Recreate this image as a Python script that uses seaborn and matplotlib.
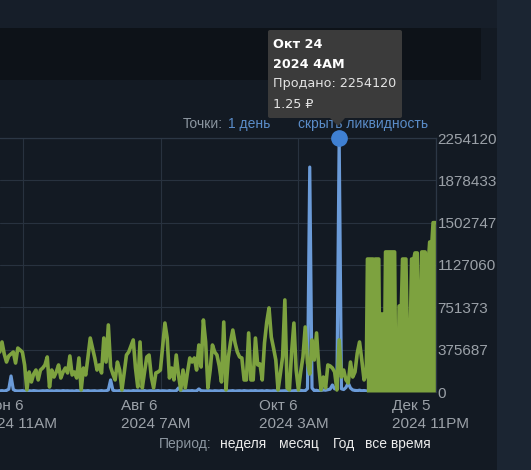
import matplotlib
matplotlib.use("Agg")
import matplotlib.pyplot as plt
import matplotlib.transforms as mtransforms
from matplotlib.patches import Rectangle, FancyBboxPatch, Polygon
import numpy as np
import pandas as pd
import seaborn as sns

# ---------------- data (values in thousands) ----------------
daily_start = "2024-05-27 04:00"
green_daily_k = [
    355, 444, 337, 266, 320, 337, 355, 257, 390, 373, 355, 240, 18, 178, 89, 160,
    195, 107, 195, 213, 240, 311, 44, 195, 133, 178, 240, 124, 178, 213, 169, 320,
    151, 178, 124, 302, 18, 213, 151, 311, 479, 390, 302, 195, 240, 169, 479, 266,
    595, 222, 160, 107, 266, 195, 18, 169, 328, 355, 408, 462, 213, 44, 444, 36,
    178, 311, 328, 133, 36, 169, 178, 195, 399, 612, 479, 124, 213, 107, 328, 151,
    18, 195, 36, 178, 302, 266, 302, 195, 417, 222, 639, 444, 36, 195, 417, 355,
    328, 231, 89, 621, 18, 302, 444, 550, 435, 355, 311, 302, 107, 107, 524, 107,
    107, 479, 240, 249, 107, 435, 621, 746, 488, 390, 284, 18, 160, 311, 817, 36,
    18, 355, 612, 195, 18, 178, 311, 577, 257, 160, 462, 284, 524, 222, 18, 133,
    36, 240, 231, 213, 178, 18, 462, 133, 195, 107, 80, 266, 133, 178, 346, 444,
    284, 107, 151,
]
blue_daily_k = [
    10, 12, 9, 14, 25, 142, 22, 11, 9, 10, 12, 8, 10, 11, 9, 12,
    10, 8, 9, 11, 10, 12, 9, 10, 8, 11, 10, 9, 12, 10, 11, 9,
    10, 8, 12, 10, 9, 11, 10, 12, 9, 10, 11, 8, 10, 12, 9, 11,
    18, 107, 16, 10, 9, 12, 10, 11, 9, 10, 8, 12, 10, 11, 9, 10,
    12, 8, 10, 11, 9, 10, 12, 9, 11, 10, 8, 12, 10, 9, 11, 36,
    12, 10, 9, 11, 10, 12, 9, 10, 27, 11, 10, 9, 12, 10, 8, 11,
    10, 9, 12, 10, 11, 9, 10, 12, 8, 10, 11, 9, 12, 10, 9, 11,
    10, 12, 9, 10, 11, 8, 12, 10, 9, 11, 10, 12, 9, 10, 11, 12,
    10, 9, 11, 12, 10, 14, 11, 12, 30, 1996, 35, 12, 15, 10, 14, 18,
    16, 20, 25, 62, 28, 30, 2254.12, 28, 22, 40, 80, 35, 18, 14, 12, 16,
    11, 13, 10,
]
dense_start = "2024-11-05 16:00"
green_dense_k = (
    [1180] * 6 + [151] + [1180] * 4 + [18] + [692] * 3 + [151] + [1243] * 9
    + [18] * 3 + [763] * 3 + [1180] * 4 + [595] * 4 + [1180] * 3 + [1234] * 3
    + [621] * 3 + [1243] * 4 + [1180] * 3 + [1331] * 3 + [1503] * 3
)
y_ticks = [0, 375687, 751373, 1127060, 1502747, 1878433, 2254120]
y_tick_labels = [str(v) for v in y_ticks]
x_tick_dates = ["2024-06-06 11:00", "2024-08-06 07:00", "2024-10-06 03:00", "2024-12-05 23:00"]
x_tick_labels = ["Июн 6\n2024 11AM", "Авг 6\n2024 7AM", "Окт 6\n2024 3AM", "Дек 5\n2024 11PM"]
x_range = ["2024-05-27 07:00", "2024-12-05 23:00"]
hover_index = 150
tooltip_lines = ["Окт 24", "2024 4AM", "Продано: 2254120", "1.25 ₽"]
period_labels = ["неделя", "месяц", "Год", "все время"]

# ---------------- frames ----------------
df_daily = pd.DataFrame({
    "date": pd.date_range(daily_start, periods=len(green_daily_k), freq="D"),
    "green": np.array(green_daily_k, float) * 1000,
    "blue": np.array(blue_daily_k, float) * 1000,
})
df_dense = pd.DataFrame({
    "date": pd.date_range(dense_start, periods=len(green_dense_k), freq="12h"),
    "green": np.array(green_dense_k, float) * 1000,
})
df_green = pd.concat([df_daily[["date", "green"]], df_dense], ignore_index=True)
df_fill = df_green[df_green["date"] >= df_daily["date"].iloc[-1]]

# ---------------- style ----------------
W, H = 531, 470
BG = "#131a23"
GRID = "#28323f"
GREEN = "#7da23f"
BLUE = "#6b9bd8"
TICK = "#9ba1a8"

sns.set_theme(style="dark", rc={"axes.facecolor": BG, "figure.facecolor": BG})
plt.rcParams["font.family"] = ["Liberation Sans", "DejaVu Sans"]

fig = plt.figure(figsize=(W / 100, H / 100), dpi=100)

def fx(x):
    return x / W

def fy(y):
    return 1 - y / H

# background panels
fig.patches.append(Rectangle((0, fy(28)), 1, 28 / H, transform=fig.transFigure,
                             facecolor="#161e29", edgecolor="none", zorder=0))
fig.patches.append(Rectangle((0, fy(80)), fx(481), 52 / H, transform=fig.transFigure,
                             facecolor="#0d1218", edgecolor="none", zorder=0))
fig.patches.append(Rectangle((fx(497), 0), 1 - fx(497), 1, transform=fig.transFigure,
                             facecolor="#1b2532", edgecolor="none", zorder=0))

ax = fig.add_axes([0, fy(392), fx(436), 254 / H])
ax.set_facecolor(BG)

sns.lineplot(data=df_daily, x="date", y="blue", color=BLUE, lw=2.3, ax=ax, zorder=2)
sns.lineplot(data=df_green, x="date", y="green", color=GREEN, lw=2.6, ax=ax, zorder=3)
ax.fill_between(df_fill["date"], 0, df_fill["green"], color=GREEN, lw=0, zorder=3)

hx = df_daily["date"].iloc[hover_index]
hy = df_daily["blue"].iloc[hover_index]
ax.plot([hx], [hy], marker="o", ms=11, color="#3f80d2", mec="#3f80d2", clip_on=False, zorder=6)

ax.set_xlim(pd.Timestamp(x_range[0]), pd.Timestamp(x_range[1]))
ax.set_ylim(0, y_ticks[-1])
ax.set_xlabel("")
ax.set_ylabel("")
ax.set_xticks(pd.to_datetime(x_tick_dates))
ax.set_xticklabels(x_tick_labels)
ax.yaxis.tick_right()
ax.set_yticks(y_ticks)
ax.set_yticklabels(y_tick_labels)
ax.tick_params(axis="both", length=0, colors=TICK, labelsize=11)
ax.tick_params(axis="x", pad=5)
ax.tick_params(axis="y", pad=1)
ax.grid(True, color=GRID, lw=0.8, zorder=0)
for s in ["left", "bottom"]:
    ax.spines[s].set_visible(False)
for s in ["top", "right"]:
    ax.spines[s].set_visible(True)
    ax.spines[s].set_color("#2c3745")
    ax.spines[s].set_linewidth(0.9)

offset = mtransforms.ScaledTranslation(-5 / 100, 0, fig.dpi_scale_trans)
for lab in ax.get_xticklabels():
    lab.set_multialignment("left")
    lab.set_linespacing(1.35)
    lab.set_transform(lab.get_transform() + offset)

# header links
fig.text(fx(183), fy(124), "Точки:", color="#8c96a0", fontsize=10, va="center")
fig.text(fx(228), fy(124), "1 день", color="#5a8cc8", fontsize=10, va="center")
fig.text(fx(298), fy(124), "скрыть ликвидность", color="#5a8cc8", fontsize=10, va="center")

# tooltip
fig.patches.append(FancyBboxPatch((fx(268), fy(118)), fx(402) - fx(268), (118 - 30) / H,
                                  boxstyle="round,pad=0,rounding_size=0.004",
                                  transform=fig.transFigure, facecolor="#3b3b3b",
                                  edgecolor="none", zorder=10))
fig.patches.append(Polygon([(fx(330), fy(118)), (fx(345), fy(118)), (fx(338), fy(126))],
                           closed=True, transform=fig.transFigure, facecolor="#3b3b3b",
                           edgecolor="none", zorder=10))
ty = [44, 64, 84, 104]
for i, (t, yy) in enumerate(zip(tooltip_lines, ty)):
    fig.text(fx(273), fy(yy), t, color="white" if i < 2 else "#e4e4e4",
             fontsize=9.2, fontweight="bold" if i < 2 else "normal",
             va="center", family=["DejaVu Sans", "Noto Sans"], zorder=11)

# period selector
fig.text(fx(159), fy(444), "Период:", color="#8c96a0", fontsize=10, va="center")
for t, xx in zip(period_labels, [220, 279, 333, 365]):
    fig.text(fx(xx), fy(444), t, color="#ececec", fontsize=10, va="center")

fig.savefig("out.png", dpi=100, facecolor=BG)
